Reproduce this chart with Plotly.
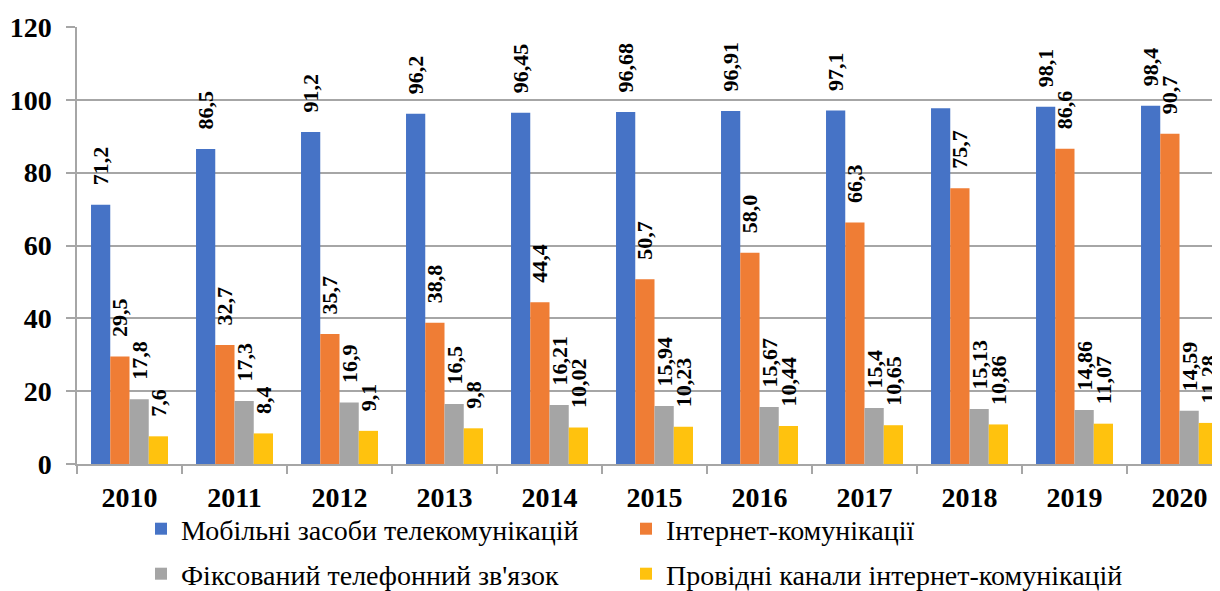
import plotly.graph_objects as go

years = ["2010", "2011", "2012", "2013", "2014", "2015", "2016", "2017", "2018", "2019", "2020"]

series_names = [
    "Мобільні засоби телекомунікацій",
    "Інтернет-комунікації",
    "Фіксований телефонний зв'язок",
    "Провідні канали інтернет-комунікацій",
]

mobile = [71.2, 86.5, 91.2, 96.2, 96.45, 96.68, 96.91, 97.1, 97.7, 98.1, 98.4]
mobile_labels = ["71,2", "86,5", "91,2", "96,2", "96,45", "96,68", "96,91", "97,1", "", "98,1", "98,4"]

internet = [29.5, 32.7, 35.7, 38.8, 44.4, 50.7, 58.0, 66.3, 75.7, 86.6, 90.7]
internet_labels = ["29,5", "32,7", "35,7", "38,8", "44,4", "50,7", "58,0", "66,3", "75,7", "86,6", "90,7"]

fixed = [17.8, 17.3, 16.9, 16.5, 16.21, 15.94, 15.67, 15.4, 15.13, 14.86, 14.59]
fixed_labels = ["17,8", "17,3", "16,9", "16,5", "16,21", "15,94", "15,67", "15,4", "15,13", "14,86", "14,59"]

wired = [7.6, 8.4, 9.1, 9.8, 10.02, 10.23, 10.44, 10.65, 10.86, 11.07, 11.28]
wired_labels = ["7,6", "8,4", "9,1", "9,8", "10,02", "10,23", "10,44", "10,65", "10,86", "11,07", "11,28"]

colors = ["#4673C6", "#EF7D35", "#A5A5A5", "#FFC20E"]

values = [mobile, internet, fixed, wired]
labels = [mobile_labels, internet_labels, fixed_labels, wired_labels]
legend_ids = ["legend", "legend2", "legend3", "legend4"]

FONT = "Liberation Serif, DejaVu Serif, serif"
PAD = "\u00a0\u00a0\u00a0"

fig = go.Figure()
for name, vals, labs, col, lg in zip(series_names, values, labels, colors, legend_ids):
    fig.add_trace(go.Bar(
        name=name,
        x=years,
        y=vals,
        text=[(PAD + t) if t else "" for t in labs],
        textposition="outside",
        textangle=-90,
        constraintext="none",
        cliponaxis=True,
        textfont=dict(family=FONT, size=22, color="black", weight="bold"),
        marker=dict(color=col, line=dict(width=0)),
        legend=lg,
    ))

# The page body has an 8px margin; the figure is sized/positioned to compensate.
OFF = 8
W, H = 1220 - OFF, 591 - OFF
left, top, bottom = 77 - OFF, 27 - OFF, 464 - OFF
plot_w = W - left
cat_w = 105.0
x_end = -0.5 + plot_w / cat_w

leg_font = dict(family=FONT, size=28, color="black")
leg_common = dict(orientation="h", xanchor="left", yanchor="middle",
                  xref="container", yref="container",
                  font=leg_font, bgcolor="rgba(0,0,0,0)", borderwidth=0)


def cx(px):
    return (px - OFF) / W


def cy(py):
    return 1 - (py - OFF) / H


fig.update_layout(
    width=W, height=H,
    margin=dict(l=left, r=0, t=top, b=H - bottom, pad=0, autoexpand=False),
    paper_bgcolor="white",
    plot_bgcolor="white",
    barmode="group",
    bargap=0.267,
    bargroupgap=0,
    showlegend=True,
    legend=dict(x=cx(141), y=cy(529), **leg_common),
    legend2=dict(x=cx(626), y=cy(529), **leg_common),
    legend3=dict(x=cx(141), y=cy(574), **leg_common),
    legend4=dict(x=cx(626), y=cy(574), **leg_common),
    xaxis=dict(
        type="category",
        range=[-0.5, x_end],
        automargin=False,
        showgrid=False,
        showline=True,
        linecolor="#A6A6A6",
        linewidth=1.5,
        ticks="outside",
        tickson="boundaries",
        ticklen=8,
        tickcolor="#A6A6A6",
        tickwidth=1.5,
        ticklabelstandoff=8,
        tickfont=dict(family=FONT, size=28, color="black", weight="bold"),
    ),
    yaxis=dict(
        range=[0, 120],
        automargin=False,
        tickvals=[0, 20, 40, 60, 80, 100, 120],
        showgrid=True,
        gridcolor="#A6A6A6",
        gridwidth=1.5,
        zeroline=False,
        showline=True,
        linecolor="#A6A6A6",
        linewidth=1.5,
        ticks="outside",
        ticklen=9,
        tickcolor="#A6A6A6",
        tickwidth=1.5,
        ticklabelstandoff=9,
        tickfont=dict(family=FONT, size=28, color="black", weight="bold"),
    ),
)

fig.write_html("out.html")
